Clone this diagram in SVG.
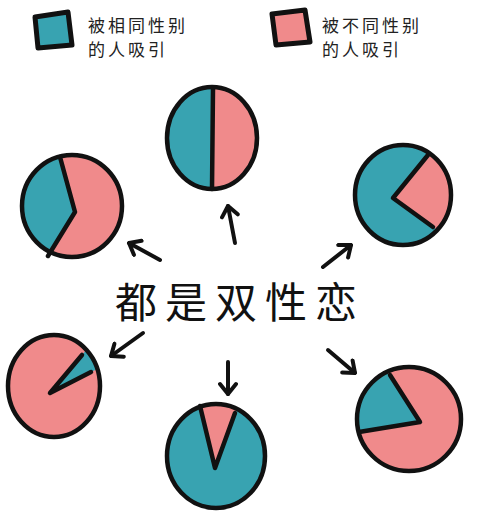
<svg xmlns="http://www.w3.org/2000/svg" width="500" height="518" viewBox="0 0 500 518">
<style>
.teal{fill:#38a3b1}
.pink{fill:#f08a8b}
.ol{fill:none;stroke:#111;stroke-width:4.5;stroke-linejoin:round;stroke-linecap:round}
.dv{fill:none;stroke:#111;stroke-width:4.5;stroke-linejoin:round;stroke-linecap:round}
.arr{fill:none;stroke:#111;stroke-width:4;stroke-linecap:round;marker-end:url(#head)}
.leg{font-family:"Noto Sans CJK SC","Noto Sans",sans-serif;font-size:17px;fill:#222;letter-spacing:3px}
.main{font-family:"Noto Sans CJK SC","Noto Sans",sans-serif;font-size:42px;fill:#111;letter-spacing:8px}
</style>
<defs>
<marker id="head" viewBox="-13 -10 15 20" refX="0" refY="0" markerWidth="15" markerHeight="20" markerUnits="userSpaceOnUse" orient="auto">
<path d="M-10,-8 L0,0 L-10,8" fill="none" stroke="#111" stroke-width="4" stroke-linecap="round" stroke-linejoin="round"/>
</marker>
<clipPath id="c1"><ellipse cx="212" cy="138" rx="45" ry="51"/></clipPath>
<clipPath id="c2"><ellipse cx="72" cy="206" rx="50" ry="51"/></clipPath>
<clipPath id="c3"><ellipse cx="403" cy="195" rx="48" ry="50"/></clipPath>
<clipPath id="c4"><ellipse cx="54" cy="386" rx="46" ry="51"/></clipPath>
<clipPath id="c5"><ellipse cx="216" cy="456" rx="49" ry="52"/></clipPath>
<clipPath id="c6"><ellipse cx="409" cy="419" rx="52" ry="52"/></clipPath>
</defs>
<rect width="500" height="518" fill="#fff"/>

<g id="legend-same">
<polygon class="teal" points="35,17 68,12 72,45 38,48" stroke="#111" stroke-width="5" stroke-linejoin="round"/>
<text class="leg" x="88" y="32">被相同性别</text>
<text class="leg" x="88" y="56">的人吸引</text>
</g>
<g id="legend-diff">
<polygon class="pink" points="272,14 305,10 310,42 276,45" stroke="#111" stroke-width="5" stroke-linejoin="round"/>
<text class="leg" x="322" y="32">被不同性别</text>
<text class="leg" x="322" y="56">的人吸引</text>
</g>

<g id="pie-top">
<ellipse class="pink" cx="212" cy="138" rx="45" ry="51"/>
<polygon class="teal" clip-path="url(#c1)" points="213,80 212,200 150,200 150,80"/>
<polyline class="dv" points="213,88 212,189"/>
<ellipse class="ol" cx="212" cy="138" rx="45" ry="51"/>
</g>

<g id="pie-left">
<ellipse class="pink" cx="72" cy="206" rx="50" ry="51"/>
<polygon class="teal" clip-path="url(#c2)" points="60,158 62,140 10,140 10,270 46,270 48,257 75,212"/>
<polyline class="dv" points="60,157 75,212 48,256"/>
<ellipse class="ol" cx="72" cy="206" rx="50" ry="51"/>
</g>

<g id="pie-right">
<ellipse class="teal" cx="403" cy="195" rx="48" ry="50"/>
<polygon class="pink" clip-path="url(#c3)" points="393,198 463,112 500,112 500,280 473,256"/>
<polyline class="dv" points="428,155 393,198 433,227"/>
<ellipse class="ol" cx="403" cy="195" rx="48" ry="50"/>
</g>

<g id="pie-lower-left">
<ellipse class="pink" cx="54" cy="386" rx="46" ry="51"/>
<polygon class="teal" clip-path="url(#c4)" points="50,393 114,317 132,351"/>
<polyline class="dv" points="82,355 50,393 91,372"/>
<ellipse class="ol" cx="54" cy="386" rx="46" ry="51"/>
</g>

<g id="pie-bottom">
<ellipse class="teal" cx="216" cy="456" rx="49" ry="52"/>
<polygon class="pink" clip-path="url(#c5)" points="215,468 185,352 255,362"/>
<polyline class="dv" points="200,406 215,468 235,413"/>
<ellipse class="ol" cx="216" cy="456" rx="49" ry="52"/>
</g>

<g id="pie-lower-right">
<ellipse class="pink" cx="409" cy="419" rx="52" ry="52"/>
<polygon class="teal" clip-path="url(#c6)" points="420,422 360,332 300,332 300,442"/>
<polyline class="dv" points="390,375 420,422 359,432"/>
<ellipse class="ol" cx="409" cy="419" rx="52" ry="52"/>
</g>

<g id="title">
<text class="main" x="115" y="318">都是双性恋</text>
</g>

<g id="connectors">
<line class="arr" x1="160" y1="260" x2="129" y2="243"/>
<line class="arr" x1="235" y1="243" x2="228" y2="206"/>
<line class="arr" x1="323" y1="267" x2="351" y2="245"/>
<line class="arr" x1="143" y1="333" x2="111" y2="356"/>
<line class="arr" x1="228" y1="362" x2="228" y2="394"/>
<line class="arr" x1="328" y1="350" x2="355" y2="373"/>
</g>
</svg>
